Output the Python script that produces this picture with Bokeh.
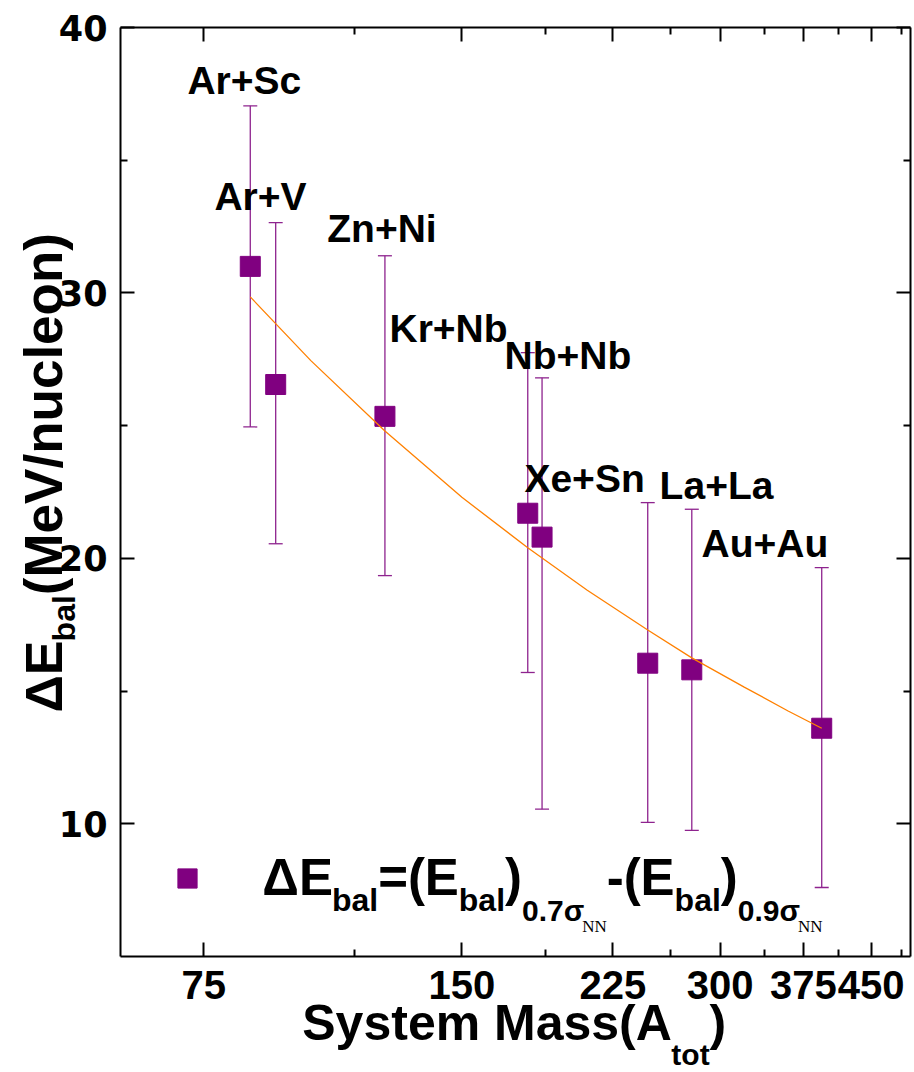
import math
from bokeh.plotting import figure
from bokeh.models import (ColumnDataSource, Whisker, TeeHead, FixedTicker, LinearAxis, LogAxis,
                          NumeralTickFormatter, Legend, LegendItem, Range1d, CustomLabelingPolicy)
from bokeh.core.properties import value
from bokeh.embed import file_html
from bokeh.resources import INLINE

# ---------------- data ----------------
systems = ["Ar+Sc", "Ar+V", "Zn+Ni", "Kr+Nb", "Nb+Nb", "Xe+Sn", "La+La", "Au+Au"]
system_mass = [85, 91, 122, 179, 186, 247, 278, 394]
delta_e_bal = [31.0, 26.55, 25.35, 21.7, 20.8, 16.05, 15.8, 13.6]
err_upper = [37.05, 32.65, 31.4, 27.75, 26.8, 22.1, 21.85, 19.65]
err_lower = [24.95, 20.55, 19.35, 15.7, 10.55, 10.05, 9.75, 7.6]

fit_mass = [85, 100, 122, 150, 179, 210, 247, 278, 320, 360, 394]
fit_delta_e = [29.85, 27.45, 24.8, 22.3, 20.4, 18.8, 17.3, 16.25, 15.15, 14.25, 13.6]

# system label anchors (data units: mass, MeV/nucleon)
label_mass = [71.8, 77.2, 104.5, 123.5, 168.2, 177.4, 255.0, 285.4]
label_de = [37.44, 33.06, 31.86, 28.09, 27.07, 22.44, 22.17, 19.99]

x_ticks = [75, 150, 225, 300, 375, 450]
x_minor_ticks = [112.5, 187.5, 262.5, 337.5, 412.5, 487.5]
y_ticks = [10, 20, 30, 40]
y_minor_ticks = [15, 25, 35]
x_limits = (60, 500)
y_limits = (5, 40)

# ---------------- layout ----------------
W, H = 914, 1072
FL, FR, FT, FB = 120, 911, 27, 956
KB = 0.39  # empirical baseline correction (fraction of font size)

PURPLE = "#800080"
ERR = "#8E238E"
ORANGE = "#FF8000"
SANS = "Liberation Sans"

p = figure(width=W, height=H, x_axis_type="log",
           x_range=Range1d(*x_limits), y_range=Range1d(*y_limits),
           output_backend="svg", toolbar_location=None,
           x_axis_location=None, y_axis_location=None,
           min_border_left=FL, min_border_right=W - FR,
           min_border_top=FT, min_border_bottom=H - FB)
p.outline_line_color = None
p.background_fill_color = "white"
p.border_fill_color = "white"
p.grid.visible = False

HIDE = ("try { for (const i of Array.from(indices)) indices.unset(i) } catch (e) {}\n"
        "return indices")


def style_axis(ax, show_labels, font=SANS, size="40px", standoff=8):
    ax.axis_line_width = 2
    ax.axis_line_color = "black"
    ax.major_tick_line_width = 2
    ax.minor_tick_line_width = 2
    ax.major_tick_in = 14
    ax.major_tick_out = 0
    ax.minor_tick_in = 7
    ax.minor_tick_out = 0
    if show_labels:
        ax.major_label_text_font = font
        ax.major_label_text_font_style = "bold"
        ax.major_label_text_font_size = size
        ax.major_label_text_color = "black"
        ax.major_label_standoff = standoff
    else:
        ax.major_label_policy = CustomLabelingPolicy(code=HIDE)
        ax.major_label_text_font_size = "1px"
        ax.major_label_standoff = 0


xt = FixedTicker(ticks=x_ticks, minor_ticks=x_minor_ticks)
yt = FixedTicker(ticks=y_ticks, minor_ticks=y_minor_ticks)

xb = LogAxis(ticker=xt, formatter=NumeralTickFormatter(format="0"))
style_axis(xb, True, SANS, "40px", 14)
p.add_layout(xb, "below")
xa = LogAxis(ticker=xt, formatter=NumeralTickFormatter(format="0"))
style_axis(xa, False)
p.add_layout(xa, "above")
yl = LinearAxis(ticker=yt, formatter=NumeralTickFormatter(format="0"))
style_axis(yl, True, "DejaVu Sans", "35px", 13)
p.add_layout(yl, "left")
yr = LinearAxis(ticker=yt, formatter=NumeralTickFormatter(format="0"))
style_axis(yr, False)
p.add_layout(yr, "right")

# ---------------- data marks ----------------
src = ColumnDataSource(dict(x=system_mass, y=delta_e_bal, upper=err_upper, lower=err_lower))
whisk = Whisker(source=src, base="x", upper="upper", lower="lower", dimension="height",
                line_color=ERR, line_width=1.3,
                upper_head=TeeHead(size=14, line_color=ERR, line_width=1.3),
                lower_head=TeeHead(size=14, line_color=ERR, line_width=1.3))
p.add_layout(whisk)

pts = p.scatter("x", "y", source=src, marker="square", size=20,
                fill_color=PURPLE, line_color=PURPLE)
p.line(fit_mass, fit_delta_e, line_color=ORANGE, line_width=1.3)

lab_src = ColumnDataSource(dict(x=label_mass, y=label_de, text=systems))
p.text(x="x", y="y", text="text", source=lab_src, text_font=value(SANS),
       text_font_style="bold", text_font_size="39px", text_color="black",
       text_align="left", text_baseline="alphabetic", y_offset=-KB * 39)

# legend key (marker only), text composed separately below
leg = Legend(items=[LegendItem(label=" ", renderers=[pts])], location=(187 - FL - 24, FB - 878 - 24),
             glyph_width=48, glyph_height=48, padding=0, spacing=0, margin=0,
             label_standoff=0, label_text_font_size="1px",
             background_fill_alpha=0, border_line_color=None)
p.add_layout(leg)

# ---------------- composed texts (with subscripts) ----------------
AW = {' ': 278, '(': 333, ')': 333, '+': 584, '-': 333, '.': 278, '/': 278, '=': 584,
      '0': 556, '7': 556, '9': 556, 'A': 722, 'E': 667, 'M': 833, 'N': 722, 'S': 667,
      'V': 667, 'a': 556, 'b': 611, 'c': 556, 'e': 556, 'l': 278, 'm': 889, 'n': 611,
      'o': 611, 's': 556, 't': 333, 'u': 611, 'y': 556, 'Δ': 700, 'σ': 620}

LX0, LX1 = math.log(x_limits[0]), math.log(x_limits[1])


def dx(cx):  # canvas pixel -> data x (log axis)
    return math.exp(LX0 + (cx - FL) / (FR - FL) * (LX1 - LX0))


def dy(cy):  # canvas pixel -> data y
    return y_limits[0] + (FB - cy) / (FB - FT) * (y_limits[1] - y_limits[0])


def tw(s, size):
    return sum(AW[c] for c in s) / 1000.0 * size


def put(text, cx, cy, size, font=SANS, bold=True, rotated=False):
    if rotated:
        cx -= KB * size
    else:
        cy -= KB * size
    p.text(x=[dx(cx)], y=[dy(cy)], text=[text], text_font=value(font),
           text_font_size=f"{size}px", text_font_style="bold" if bold else "normal",
           text_color="black", text_align="left", text_baseline="alphabetic",
           angle=math.pi / 2 if rotated else 0.0, level="overlay")


# x-axis title: System Mass(A_tot)
cx = 302
put("System Mass(A", cx, 1042, 50); cx += tw("System Mass(A", 50)
put("tot", cx, 1066, 30); cx += tw("tot", 30)
put(")", cx, 1042, 50)

# y-axis title: ΔE_bal(MeV/nucleon), rotated
u = 712
put("ΔE", 64, u, 52, rotated=True); u -= tw("ΔE", 52)
put("bal", 76, u, 32, rotated=True); u -= tw("bal", 32)
put("(MeV/nucleon)", 64, u, 53, rotated=True)

# legend text: ΔE_bal=(E_bal)_{0.7σ_NN}-(E_bal)_{0.9σ_NN}
F, FS, FN = 51, 32, 17
BM, BS, BS2, BN = 897, 912, 922, 933
cx = 262
for txt, base, size, font in [("ΔE", BM, F, SANS), ("bal", BS, FS, SANS), ("=(", BM, F, SANS),
                              ("E", BM, F, SANS), ("bal", BS, FS, SANS), (")", BM, F, SANS),
                              ("0.7σ", BS2, 30, SANS), ("NN", BN, FN, "Liberation Serif"),
                              ("-(", BM, F, SANS), ("E", BM, F, SANS), ("bal", BS, FS, SANS),
                              (")", BM, F, SANS), ("0.9σ", BS2, 30, SANS),
                              ("NN", BN, FN, "Liberation Serif")]:
    put(txt, cx, base, size, font=font, bold=(font == SANS))
    cx += tw(txt, size)

open("out.html", "w").write(file_html(p, INLINE))
